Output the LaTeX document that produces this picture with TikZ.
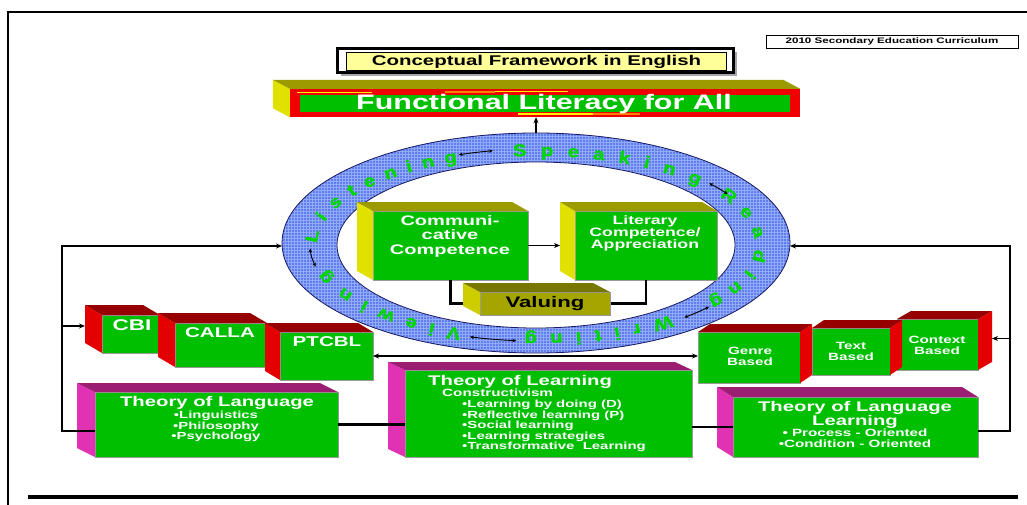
\documentclass[tikz,border=0pt]{standalone}
\usepackage{fontspec}
\setmainfont{Liberation Sans}
\newfontfamily\wf[FakeStretch=1.45]{Liberation Sans}
\newfontfamily\rfb[FakeStretch=1.2,FakeBold=1.2,UprightFont={* Bold}]{Liberation Sans}
\usetikzlibrary{calc,arrows.meta,patterns,shapes.geometric,decorations.text}
\definecolor{fgreen}{RGB}{0,190,0}
\definecolor{redface}{RGB}{228,0,0}
\definecolor{redtop}{RGB}{150,0,0}
\definecolor{yface}{RGB}{225,225,0}
\definecolor{otop}{RGB}{155,155,0}
\definecolor{mface}{RGB}{225,50,180}
\definecolor{mtop}{RGB}{155,30,115}
\definecolor{vfront}{RGB}{165,165,0}
\definecolor{vleft}{RGB}{205,205,0}
\definecolor{vtop}{RGB}{120,120,0}
\definecolor{ringblue}{RGB}{95,125,235}
\definecolor{gridblue}{RGB}{145,170,250}
\definecolor{ringline}{RGB}{25,25,100}
\definecolor{ringgreen}{RGB}{0,215,0}
\definecolor{titley}{RGB}{255,255,153}
\definecolor{bred}{RGB}{240,0,0}
\newcommand\fsz[2]{\fontsize{#1}{#2}\selectfont}
% 3D faces, depth up-left
\newcommand\ulbox[5]{%
  \fill[#4] (#1.north west) -- ++(-#2,#3) -- ([shift={(-#2,#3)}]#1.south west) -- (#1.south west) -- cycle;
  \fill[#5] (#1.north west) -- ++(-#2,#3) -- ([shift={(-#2,#3)}]#1.north east) -- (#1.north east) -- cycle;}
% 3D faces, depth up-right
\newcommand\urbox[5]{%
  \fill[#4] (#1.north east) -- ++(#2,#3) -- ([shift={(#2,#3)}]#1.south east) -- (#1.south east) -- cycle;
  \fill[#5] (#1.north west) -- ++(#2,#3) -- ([shift={(#2,#3)}]#1.north east) -- (#1.north east) -- cycle;}
\begin{document}
\begin{tikzpicture}[x=1pt,y=1pt,
  front/.style 2 args={fill=fgreen, draw=black!40, line width=0.4pt, inner sep=0pt, outer sep=0pt, minimum width=#1, minimum height=#2},
  wtxt/.style={text=white, inner sep=0pt, align=center},
  conn/.style={line width=2.2pt},
  tip/.style={-{Stealth[length=6pt,width=5pt]}},
  dtip/.style={{Stealth[length=6pt,width=5pt]}-{Stealth[length=6pt,width=5pt]}},
  small/.style={line width=0.9pt, {Stealth[length=4pt,width=3.5pt]}-{Stealth[length=4pt,width=3.5pt]}},
  ringword/.style={decorate, decoration={text along path, text align={fit to path}, text={|\rfb\fsz{17}{17}\color{ringgreen}|#1}}}
]
\useasboundingbox (0,0) rectangle (1027,-505);
\fill[white] (0,0) rectangle (1027,-505);
% frame
\draw[line width=1.5pt] (8,-505) -- (8,-12) -- (1027,-12);
\draw[line width=4pt] (28,-497) -- (1018,-497);
% curriculum tag
\node[draw, line width=0.8pt, minimum width=252pt, minimum height=13pt, inner sep=0pt, font=\wf\bfseries\fsz{8}{9}] (cur) at (892,-41.5) {2010 Secondary Education Curriculum};
% title
\fill[black!35] (341,-52) rectangle (737,-76);
\fill[white] (338.5,-49) rectangle (733.5,-73);
\node[fill=titley, draw=black, line width=0.5pt, minimum width=380pt, minimum height=18pt, inner sep=0pt, font=\wf\bfseries\fsz{14.1}{15}] (title) at (536.5,-61.5) {Conceptual Framework in English};
\draw[line width=2.8pt] ($(title.north west)+(-9,4)$) rectangle ($(title.south east)+(7,-2)$);
% banner
\node[fill=bred, inner sep=0pt, minimum width=510pt, minimum height=28pt] (banner) at (545,-103) {};
\ulbox{banner}{17}{9}{yface}{otop}
\node[fill=fgreen, inner sep=0pt, minimum width=490pt, minimum height=17pt] (bannerin) at (545,-103.5) {};
\draw[yellow, line width=1.2pt] (297,-92.5) -- (372,-92.5) (495,-91.5) -- (568,-91.5) (518,-114) -- (593,-114);
\draw[orange, line width=1.2pt] (445,-92) -- (495,-92) (593,-114) -- (640,-114);
\node[wtxt, font=\wf\bfseries\fsz{21}{22}] (t-banner) at (544,-104) {Functional Literacy for All};
% ring
\node[ellipse, minimum width=508pt, minimum height=220pt, inner sep=0pt, outer sep=0pt, draw=ringline, line width=0.8pt, preaction={fill=ringblue}, pattern=grid, pattern color=gridblue] (ring) at (536,-243) {};
\node[ellipse, minimum width=398pt, minimum height=166pt, inner sep=0pt, outer sep=0pt, draw=ringline, line width=0.8pt, fill=white] (ringin) at (536,-245) {};
\coordinate (rc) at (536,-245);
\path[ringword=Listening] ($(rc)+(179:219 and 89)$) arc[start angle=179, end angle=111, x radius=219, y radius=89];
\path[ringword=Speaking] ($(rc)+(96:219 and 89)$) arc[start angle=96, end angle=42, x radius=219, y radius=89];
\path[ringword=Reading] ($(rc)+(33:219 and 89)$) arc[start angle=33, end angle=-38, x radius=219, y radius=89];
\path[ringword=Writing] ($(rc)+(-52:219 and 89)$) arc[start angle=-52, end angle=-93, x radius=219, y radius=89];
\path[ringword=Viewing] ($(rc)+(-110:219 and 89)$) arc[start angle=-110, end angle=-164, x radius=219, y radius=89];
\draw[small] ($(rc)+(110:226 and 96)$) arc[start angle=110, end angle=101, x radius=226, y radius=96];
\draw[small] ($(rc)+(40:226 and 96)$) arc[start angle=40, end angle=32, x radius=226, y radius=96];
\draw[small] ($(rc)+(-40:226 and 96)$) arc[start angle=-40, end angle=-49, x radius=226, y radius=96];
\draw[small] ($(rc)+(-95:226 and 96)$) arc[start angle=-95, end angle=-107, x radius=226, y radius=96];
\draw[small] ($(rc)+(-167:226 and 96)$) arc[start angle=-167, end angle=-178, x radius=226, y radius=96];
\draw[line width=1.2pt, tip] (ring.north) -- (ring.north |- banner.south);
% inner boxes
\node[front={155pt}{69pt}] (comm) at (450.5,-245.5) {};
\ulbox{comm}{16}{9}{yface}{otop}
\node[wtxt, font=\wf\bfseries\fsz{13.8}{14.5}] (t-comm) at (450,-236) {Communi-\\cative\\Competence};
\node[front={142pt}{69pt}] (lit) at (646,-245.5) {};
\ulbox{lit}{15}{9}{yface}{otop}
\node[wtxt, font=\wf\bfseries\fsz{12.2}{11.8}] (t-lit) at (645,-233.5) {Literary\\Competence/\\Appreciation};
\coordinate (litb) at ($(lit.west)+(-15,0)$);
\draw[line width=1.5pt, tip] (comm.east) -- (comm.east -| litb);
\coordinate (valc) at (545,-303.5);
\draw[line width=2.5pt] (comm.south) |- (valc);
\draw[line width=2.5pt] (lit.south) |- (valc);
\node[front={130pt}{23pt}, fill=vfront] (val) at (valc) {};
\ulbox{val}{17}{9}{vleft}{vtop}
\node[inner sep=0pt, font=\wf\bfseries\fsz{15.3}{16}] (t-val) at (545,-304) {Valuing};
% red boxes left
\node[front={58pt}{38pt}] (cbi) at (131,-334) {};
\ulbox{cbi}{17}{10}{redface}{redtop}
\node[wtxt, font=\wf\bfseries\fsz{15.5}{16}] (t-cbi) at (132,-325) {CBI};
\node[front={92pt}{44pt}] (calla) at (221,-345) {};
\ulbox{calla}{17}{10}{redface}{redtop}
\node[wtxt, font=\wf\bfseries\fsz{14.2}{15}] (t-calla) at (220,-333) {CALLA};
\node[front={93pt}{48pt}] (ptcbl) at (326.5,-356) {};
\ulbox{ptcbl}{15}{9}{redface}{redtop}
\node[wtxt, font=\wf\bfseries\fsz{14.2}{15}] (t-ptcbl) at (327,-342) {PTCBL};
% red boxes right
\node[front={81pt}{51pt}] (ctx) at (937.5,-344.5) {};
\urbox{ctx}{14}{8}{redface}{redtop}
\node[wtxt, font=\wf\bfseries\fsz{10.5}{11}] (t-ctx) at (937,-345.5) {Context\\Based};
\node[front={78pt}{47pt}] (txt) at (851,-351.5) {};
\urbox{txt}{12}{8}{redface}{redtop}
\node[wtxt, font=\wf\bfseries\fsz{10.5}{11}] (t-txt) at (851,-351.5) {Text\\Based};
\node[front={102pt}{51pt}] (genre) at (749,-357.5) {};
\urbox{genre}{12}{8}{redface}{redtop}
\node[wtxt, font=\wf\bfseries\fsz{10.5}{11}] (t-genre) at (750,-356.5) {Genre\\Based};
% theory boxes
\node[front={243pt}{65pt}] (tol) at (216.5,-424.5) {};
\ulbox{tol}{18}{9}{mface}{mtop}
\node[wtxt, font=\wf\bfseries\fsz{14}{15}] (t-tol) at (217,-403) {Theory of Language};
\node[wtxt, font=\wf\bfseries\fsz{10.3}{10.5}] (t-tolb) at (216,-426.5) {•Linguistics\\•Philosophy\\•Psychology};
\node[front={287pt}{87pt}] (tolearn) at (548.5,-413.5) {};
\ulbox{tolearn}{17}{8}{mface}{mtop}
\node[wtxt, anchor=west, font=\wf\bfseries\fsz{14}{15}] (t-tolearn) at (428,-382) {Theory of Learning};
\node[wtxt, anchor=west, font=\wf\bfseries\fsz{10.5}{10.5}] (t-cons) at (442,-393) {Constructivism};
\node[wtxt, anchor=west, align=left, font=\wf\bfseries\fsz{10.3}{10.5}] (t-tolearnb) at (462,-426) {•Learning by doing (D)\\•Reflective learning (P)\\•Social learning\\•Learning strategies\\•Transformative~ Learning};
\node[front={245pt}{60pt}] (toll) at (855.5,-427) {};
\ulbox{toll}{16}{10}{mface}{mtop}
\node[wtxt, font=\wf\bfseries\fsz{14}{14}] (t-toll) at (855,-415) {Theory of Language\\Learning};
\node[wtxt, font=\wf\bfseries\fsz{10.5}{11}] (t-tollb) at (855,-438.5) {• Process - Oriented\\•Condition - Oriented};
% connectors
\coordinate (L1) at (62,-246);
\coordinate (L2) at (62,-431);
\coordinate (R1) at (1010,-246);
\coordinate (R2) at (1010,-431);
\draw[conn, tip] (L2 -| tol.west) -- (L2) -- (L1) -- (L1 -| ring.west);
\coordinate (cbib) at ($(cbi.west)+(-17,8)$);
\draw[line width=1.5pt, tip] (L1 |- cbib) -- (cbib);
\draw[conn, tip] (R2 -| toll.east) -- (R2) -- (R1) -- (R1 -| ring.east);
\coordinate (ctxb) at ($(ctx.east)+(14,6)$);
\draw[line width=1.5pt, tip] (R1 |- ctxb) -- (ctxb);
\draw[line width=1.6pt, dtip] (ptcbl.east) -- (ptcbl.east -| genre.west);
\draw[conn] (tol.east) -- (tol.east -| tolearn.west);
\draw[conn] (tolearn.east |- toll.west) -- (toll.west);
\end{tikzpicture}
\end{document}
